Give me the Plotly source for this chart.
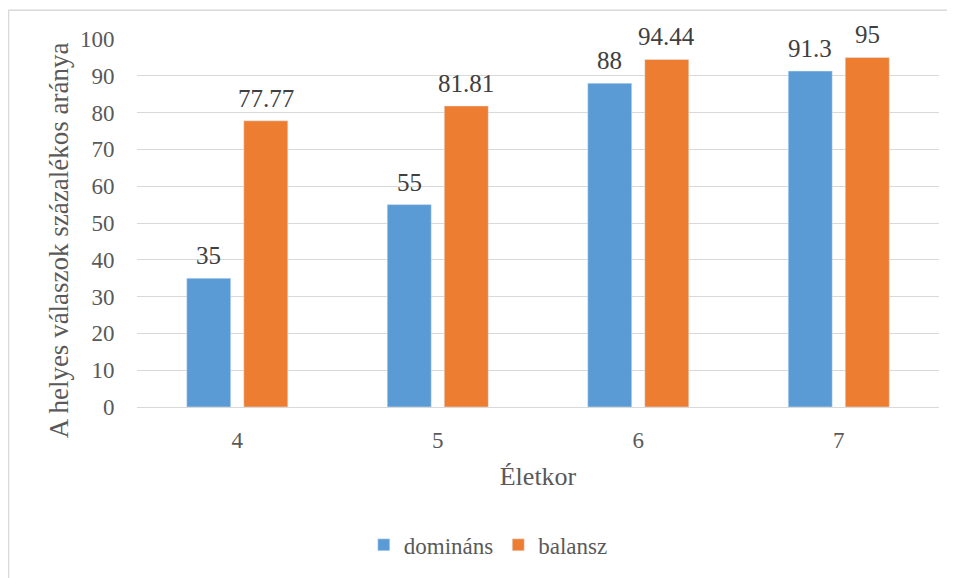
import plotly.graph_objects as go

categories = ["4", "5", "6", "7"]
dominans = [35, 55, 88, 91.3]
balansz = [77.77, 81.81, 94.44, 95]
dominans_labels = ["35", "55", "88", "91.3"]
balansz_labels = ["77.77", "81.81", "94.44", "95"]
y_ticks = [0, 10, 20, 30, 40, 50, 60, 70, 80, 90, 100]
y_title = "A helyes válaszok százalékos aránya"
x_title = "Életkor"

FONT = "Liberation Serif"
BLUE, ORANGE = "#5B9BD5", "#ED7D31"

# page is offset by the 8px body margin
W, H = 947, 570
L, R, T, B = 129, 16, 31, 168
pw, ph = W - L - R, H - T - B

BARGAP, GROUPGAP = 0.431, 0.228
band = pw / len(categories)
slot = band * (1 - BARGAP) / 2
offset = slot / 2

fig = go.Figure()
fig.add_trace(go.Bar(name="domináns", x=categories, y=dominans, marker_color=BLUE))
fig.add_trace(go.Bar(name="balansz", x=categories, y=balansz, marker_color=ORANGE))

annotations = []
for i, (v, t) in enumerate(zip(dominans, dominans_labels)):
    annotations.append(dict(x=i, y=v, xref="x", yref="y", text=t, showarrow=False,
                            xanchor="center", yanchor="bottom", xshift=-offset, yshift=7,
                            font=dict(family=FONT, size=25, color="#404040")))
for i, (v, t) in enumerate(zip(balansz, balansz_labels)):
    annotations.append(dict(x=i, y=v, xref="x", yref="y", text=t, showarrow=False,
                            xanchor="center", yanchor="bottom", xshift=offset, yshift=7,
                            font=dict(family=FONT, size=25, color="#404040")))
annotations.append(dict(x=(51 - L) / pw, y=(402 - 234) / ph, xref="paper", yref="paper",
                        text=y_title, textangle=-90, showarrow=False,
                        xanchor="center", yanchor="middle",
                        font=dict(family=FONT, size=27, color="#595959")))

fig.update_layout(
    width=W, height=H,
    margin=dict(l=L, r=R, t=T, b=B),
    paper_bgcolor="white", plot_bgcolor="white",
    barmode="group", bargap=BARGAP, bargroupgap=GROUPGAP,
    font=dict(family=FONT, color="#595959", size=22),
    showlegend=True,
    legend=dict(orientation="h", x=0.438, xanchor="center", y=-(541 - 402) / ph, yanchor="middle",
                font=dict(family=FONT, size=23, color="#595959"), traceorder="normal", itemwidth=30),
    xaxis=dict(type="category", range=[-0.5, 3.5], showgrid=False, showline=True,
               linecolor="#d9d9d9", linewidth=1,
               ticks="outside", ticklen=12, tickcolor="rgba(0,0,0,0)",
               tickfont=dict(family=FONT, size=23),
               title=dict(text=x_title, font=dict(family=FONT, size=26), standoff=15)),
    yaxis=dict(range=[0, 100], tickvals=y_ticks, showgrid=True, gridcolor="#d9d9d9", gridwidth=1,
               zeroline=False, showline=False, ticks="outside", ticklen=17, tickcolor="rgba(0,0,0,0)",
               tickfont=dict(family=FONT, size=23)),
    annotations=annotations,
    shapes=[dict(type="rect", xref="paper", yref="paper",
                 x0=(0.5 - L) / pw, x1=1.1, y0=-0.6, y1=(402 - 2) / ph,
                 line=dict(color="#d9d9d9", width=1.5), fillcolor="rgba(0,0,0,0)", layer="below")],
)

fig.write_html("out.html")
